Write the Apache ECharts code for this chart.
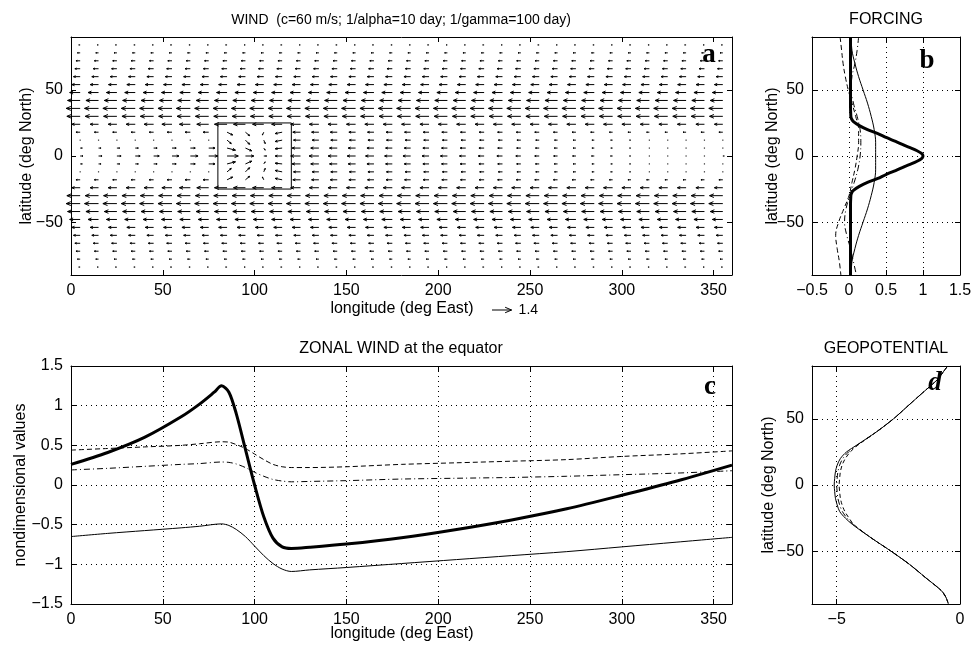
<!DOCTYPE html>
<html><head><meta charset="utf-8">
<script src="https://cdn.jsdelivr.net/npm/echarts@6/dist/echarts.min.js"></script>
<style>html,body{margin:0;padding:0;background:#fff}#c{width:972px;height:645px}</style>
</head><body><div id="c"></div>
<script>
// ================= DATA =================
// --- panel a: wind vectors (tails at grid points) ---
const windLons = [5,15,25,35,45,55,65,75,85,95,105,115,125,135,145,155,165,175,185,195,205,215,225,235,245,255,265,275,285,295,305,315,325,335,345,355];
// rows that look uniform along longitude (zonal wind u)
const uniformLats = [84,78,72,66,60,54,48,42,36,30,-30,-36,-42,-48,-54,-60,-66,-72,-78,-84];
const uniformU    = [-0.1,-0.2,-0.3,-0.38,-0.48,-0.6,-0.75,-0.9,-1.0,-0.95,-0.95,-1.0,-0.9,-0.75,-0.6,-0.48,-0.38,-0.3,-0.2,-0.1];
// tropical rows (u per longitude)
const tropLats = [24,18,12,6,0,-6,-12,-18,-24];
const uN24 = [-0.6,-0.6,-0.62,-0.65,-0.68,-0.72,-0.78,-0.85,-0.9,-0.85,-0.8,-0.75,-0.7,-0.68,-0.66,-0.65,-0.65,-0.65,-0.65,-0.65,-0.65,-0.65,-0.65,-0.65,-0.65,-0.65,-0.65,-0.65,-0.65,-0.65,-0.65,-0.65,-0.63,-0.62,-0.61,-0.6];
const uN18 = [-0.3,-0.3,-0.3,-0.3,-0.32,-0.35,-0.38,-0.4,0.4,0.3,-0.1,-0.5,-0.55,-0.52,-0.5,-0.48,-0.46,-0.45,-0.44,-0.42,-0.4,-0.38,-0.36,-0.35,-0.33,-0.32,-0.3,-0.28,-0.26,-0.24,-0.22,-0.2,-0.2,-0.22,-0.25,-0.28];
const uN12 = [-0.05,-0.05,-0.05,-0.05,-0.05,-0.05,-0.06,-0.08,0.3,0.3,0.1,-0.5,-0.5,-0.48,-0.46,-0.45,-0.43,-0.42,-0.4,-0.38,-0.36,-0.34,-0.32,-0.3,-0.28,-0.25,-0.22,-0.2,-0.17,-0.14,-0.1,-0.08,-0.06,-0.05,-0.05,-0.05];
const uN06 = [0.15,0.18,0.2,0.22,0.25,0.3,0.35,0.45,0.6,0.45,0.1,-0.5,-0.6,-0.58,-0.55,-0.53,-0.5,-0.48,-0.46,-0.44,-0.42,-0.4,-0.37,-0.34,-0.3,-0.27,-0.24,-0.2,-0.17,-0.13,-0.1,-0.07,-0.04,-0.02,0.02,0.08];
const uEq  = [0.2,0.25,0.3,0.35,0.4,0.5,0.55,0.65,0.8,0.6,0.2,-0.5,-0.7,-0.7,-0.65,-0.6,-0.6,-0.55,-0.55,-0.5,-0.5,-0.45,-0.42,-0.4,-0.36,-0.32,-0.28,-0.24,-0.2,-0.15,-0.1,-0.07,-0.04,0.02,0.05,0.1];
const uS06 = [0.15,0.18,0.2,0.22,0.25,0.3,0.35,0.45,0.6,0.45,0.1,-0.5,-0.6,-0.58,-0.55,-0.53,-0.5,-0.48,-0.46,-0.44,-0.42,-0.4,-0.37,-0.34,-0.3,-0.27,-0.24,-0.2,-0.17,-0.13,-0.1,-0.07,-0.04,-0.02,0.02,0.08];
const uS12 = [-0.05,-0.05,-0.05,-0.05,-0.05,-0.05,-0.06,-0.08,0.3,0.3,0.1,-0.5,-0.5,-0.48,-0.46,-0.45,-0.43,-0.42,-0.4,-0.38,-0.36,-0.34,-0.32,-0.3,-0.28,-0.25,-0.22,-0.2,-0.17,-0.14,-0.1,-0.08,-0.06,-0.05,-0.05,-0.05];
const uS18 = [-0.3,-0.3,-0.3,-0.3,-0.32,-0.35,-0.38,-0.4,0.4,0.3,-0.1,-0.5,-0.55,-0.52,-0.5,-0.48,-0.46,-0.45,-0.44,-0.42,-0.4,-0.38,-0.36,-0.35,-0.33,-0.32,-0.3,-0.28,-0.26,-0.24,-0.22,-0.2,-0.2,-0.22,-0.25,-0.28];
const uS24 = [-0.6,-0.6,-0.62,-0.65,-0.68,-0.72,-0.78,-0.85,-0.9,-0.85,-0.8,-0.75,-0.7,-0.68,-0.66,-0.65,-0.65,-0.65,-0.65,-0.65,-0.65,-0.65,-0.65,-0.65,-0.65,-0.65,-0.65,-0.65,-0.65,-0.65,-0.65,-0.65,-0.63,-0.62,-0.61,-0.6];
const uTrop = [uN24,uN18,uN12,uN06,uEq,uS06,uS12,uS18,uS24];
// meridional wind inside the forcing box: [lon, lat, v]
const vBox = [
  [85,18,-0.2],[95,18,-0.25],[105,18,-0.2],[115,18,-0.1],
  [85,12,-0.25],[95,12,-0.3],[105,12,-0.25],[115,12,-0.1],
  [85,6,-0.15],[95,6,-0.2],[105,6,-0.15],[115,6,-0.05],
  [85,-6,0.15],[95,-6,0.2],[105,-6,0.15],[115,-6,0.05],
  [85,-12,0.25],[95,-12,0.3],[105,-12,0.25],[115,-12,0.1],
  [85,-18,0.2],[95,-18,0.25],[105,-18,0.2],[115,-18,0.1]
];
const boxLon = [80,120,120,80,80];
const boxLat = [-25,-25,25,25,-25];
const scaleArrowValue = 1.4;

// --- panel b: forcing profiles vs latitude ---
const forcLat      = [90,80,70,60,50,40,30,20,10,0,-10,-20,-30,-40,-50,-60,-70,-80,-90];
const forcThin     = [0.03,0.04,0.08,0.13,0.19,0.25,0.3,0.34,0.36,0.36,0.36,0.34,0.3,0.25,0.19,0.13,0.08,0.04,0.03];
const forcDash     = [-0.12,-0.1,-0.08,-0.05,-0.01,0.04,0.09,0.13,0.13,0.11,0.08,0.04,0.0,-0.07,-0.14,-0.18,-0.16,-0.13,-0.11];
const forcDashDot  = [0.13,0.11,0.08,0.04,0.03,0.06,0.11,0.15,0.16,0.15,0.12,0.07,0.01,-0.04,-0.06,-0.03,0.02,0.06,0.1];
const thickLat     = [90,60,40,30,28,26,23,20,17,14,11,8,6,4,2,0,-2,-4,-6,-8,-11,-14,-17,-20,-23,-26,-28,-30,-40,-60,-90];
const forcThick    = [0.02,0.02,0.02,0.025,0.035,0.06,0.14,0.25,0.39,0.5,0.63,0.75,0.84,0.92,0.98,1.0,0.98,0.92,0.84,0.75,0.63,0.5,0.39,0.25,0.14,0.06,0.035,0.025,0.02,0.02,0.02];

// --- panel c: zonal wind at the equator ---
const zonLon      = [0,20,40,60,70,82,86,90,95,100,105,110,115,120,130,150,180,210,240,270,300,330,360];
const zonThin     = [-0.65,-0.61,-0.575,-0.54,-0.52,-0.49,-0.51,-0.56,-0.65,-0.77,-0.89,-0.99,-1.06,-1.09,-1.07,-1.04,-0.99,-0.94,-0.89,-0.84,-0.78,-0.72,-0.66];
const zonDash     = [0.44,0.46,0.48,0.5,0.52,0.545,0.54,0.51,0.46,0.39,0.32,0.26,0.23,0.22,0.22,0.23,0.26,0.28,0.3,0.32,0.36,0.39,0.43];
const zonDashDot  = [0.19,0.21,0.235,0.26,0.27,0.29,0.285,0.265,0.22,0.16,0.11,0.07,0.05,0.04,0.045,0.055,0.075,0.085,0.095,0.11,0.13,0.15,0.18];
const thickLon    = [0,20,40,60,70,78,82,86,90,95,100,105,110,115,120,130,150,180,210,240,270,300,330,360];
const zonThick    = [0.26,0.41,0.6,0.86,1.02,1.17,1.25,1.17,0.9,0.45,0.0,-0.4,-0.67,-0.78,-0.8,-0.785,-0.745,-0.665,-0.56,-0.44,-0.3,-0.13,0.05,0.25];

// --- panel d: geopotential vs latitude ---
const geoLat     = [90,85,80,70,60,50,40,30,25,20,15,10,5,0,-5,-10,-15,-20,-25,-30,-40,-50,-60,-70,-80,-85,-90];
const geoSolid   = [-0.5,-0.7,-0.9,-1.5,-2.1,-2.7,-3.4,-4.2,-4.6,-4.85,-4.98,-5.05,-5.08,-5.1,-5.08,-5.05,-4.98,-4.88,-4.65,-4.35,-3.6,-2.8,-2.05,-1.4,-0.75,-0.57,-0.47];
const geoDash    = [-0.5,-0.7,-0.9,-1.5,-2.1,-2.7,-3.4,-4.15,-4.45,-4.65,-4.78,-4.85,-4.88,-4.9,-4.88,-4.85,-4.78,-4.67,-4.5,-4.3,-3.6,-2.8,-2.05,-1.4,-0.75,-0.57,-0.47];
const geoDashDot = [-0.5,-0.7,-0.9,-1.5,-2.1,-2.7,-3.4,-4.18,-4.52,-4.75,-4.88,-4.95,-4.98,-5.0,-4.98,-4.95,-4.88,-4.77,-4.58,-4.32,-3.6,-2.8,-2.05,-1.4,-0.75,-0.57,-0.47];

// --- tick values ---
const lonTicks   = [0,50,100,150,200,250,300,350];
const latTicks   = [-50,0,50];
const forcTicks  = [-0.5,0,0.5,1,1.5];
const zonTicks   = [-1.5,-1,-0.5,0,0.5,1,1.5];
const geoTicks   = [-5,0];

// ================= BUILD =================
const FONT = '"Liberation Sans", Arial, Helvetica, sans-serif';
const ARROW_PX = 14; // pixels per unit of wind

const windData = [];
const vLookup = {};
vBox.forEach(d => { vLookup[d[0] + '_' + d[1]] = d[2]; });
function pushRow(lat, uArr) {
  windLons.forEach((lon, i) => {
    const u = Array.isArray(uArr) ? uArr[i] : uArr;
    const v = vLookup[lon + '_' + lat] || 0;
    windData.push([lon, lat, u, v]);
  });
}
uniformLats.forEach((lat, k) => pushRow(lat, uniformU[k]));
tropLats.forEach((lat, k) => pushRow(lat, uTrop[k]));

const zip = (a, b) => a.map((x, i) => [x, b[i]]);
const minus = v => String(v).replace('-', '\u2212');

function axisPair(gridIndex, dim, min, max, ticks, grid) {
  const isX = dim === 'x';
  const base = {
    type: 'value', gridIndex, min, max, scale: true,
    axisLine: { show: true, onZero: false, lineStyle: { color: '#000', width: 1 } },
    axisTick: { show: true, inside: true, length: 5, customValues: ticks, lineStyle: { color: '#000', width: 1 } },
  };
  const main = Object.assign({}, base, {
    position: isX ? 'bottom' : 'left',
    axisLabel: { show: true, customValues: ticks, color: '#000', fontSize: 16, fontFamily: FONT, margin: isX ? 8 : 8, formatter: minus },
    splitLine: { show: grid, lineStyle: { color: '#000', width: 1, type: [1, 4] } }
  });
  const opp = Object.assign({}, base, {
    position: isX ? 'top' : 'right',
    axisLabel: { show: false },
    splitLine: { show: false }
  });
  return [main, opp];
}

const xAxes = [].concat(
  axisPair(0, 'x', 0, 360, lonTicks, false),
  axisPair(1, 'x', -0.5, 1.5, forcTicks, true),
  axisPair(2, 'x', 0, 360, lonTicks, true),
  axisPair(3, 'x', -6, 0, geoTicks, true)
);
const yAxes = [].concat(
  axisPair(0, 'y', -90, 90, latTicks, false),
  axisPair(1, 'y', -90, 90, latTicks, true),
  axisPair(2, 'y', -1.5, 1.5, zonTicks, true),
  axisPair(3, 'y', -90, 90, latTicks, true)
);

function line(xi, yi, data, width, type, smooth) {
  return {
    type: 'line', xAxisIndex: xi, yAxisIndex: yi, data, showSymbol: false, symbol: 'none',
    smooth: smooth || false, animation: false, silent: true, clip: true,
    lineStyle: { color: '#000', width, type: type || 'solid' }
  };
}

function renderArrow(params, api) {
  const lon = api.value(0), lat = api.value(1), u = api.value(2), v = api.value(3);
  const p = api.coord([lon, lat]);
  const dx = u * ARROW_PX, dy = -v * ARROW_PX;
  const L = Math.hypot(dx, dy);
  const st = { stroke: '#000', lineWidth: 1, fill: null };
  if (L < 1.2) {
    return { type: 'line', shape: { x1: p[0] - 0.6, y1: p[1], x2: p[0] + 0.6, y2: p[1] }, style: st };
  }
  const tip = [p[0] + dx, p[1] + dy];
  const ex = dx / L, ey = dy / L;
  const hl = 0.33 * L, hw = 0.14 * L;
  return {
    type: 'group', children: [
      { type: 'polyline', shape: { points: [p, tip] }, style: st },
      { type: 'polyline', shape: { points: [[tip[0] - ex * hl - ey * hw, tip[1] - ey * hl + ex * hw], tip, [tip[0] - ex * hl + ey * hw, tip[1] - ey * hl - ex * hw]] }, style: st }
    ]
  };
}

function txt(text, x, y, size, opts) {
  opts = opts || {};
  return {
    type: 'text', x, y, rotation: opts.rot || 0, silent: true,
    style: {
      text, x: 0, y: 0, fill: '#000',
      font: (opts.weight || '') + ' ' + (opts.style || '') + ' ' + size + 'px ' + (opts.family || FONT),
      align: opts.align || 'center', verticalAlign: 'middle',
      textAlign: opts.align || 'center', textVerticalAlign: 'middle'
    }
  };
}

const SERIF = '"Liberation Serif", "Times New Roman", serif';
const sx = 492, sy = 310, sl = scaleArrowValue * ARROW_PX;
const graphics = [
  txt('WIND  (c=60 m/s; 1/alpha=10 day; 1/gamma=100 day)', 401, 20, 14),
  txt('FORCING', 886, 20, 16),
  txt('ZONAL WIND at the equator', 401, 349, 16),
  txt('GEOPOTENTIAL', 886, 349, 16),
  txt('longitude (deg East)', 402, 309, 16),
  txt('longitude (deg East)', 402, 634, 16),
  txt('latitude (deg North)', 27, 156, 16, { rot: Math.PI / 2 }),
  txt('latitude (deg North)', 773, 156, 16, { rot: Math.PI / 2 }),
  txt('nondimensional values', 21, 485, 16, { rot: Math.PI / 2 }),
  txt('latitude (deg North)', 769, 485, 16, { rot: Math.PI / 2 }),
  txt('a', 709, 55, 27, { weight: 'bold', family: SERIF }),
  txt('b', 927, 61, 27, { weight: 'bold', family: SERIF }),
  txt('c', 710, 387, 27, { weight: 'bold', family: SERIF }),
  txt('d', 935, 383, 27, { weight: 'bold', style: 'italic', family: SERIF }),
  { type: 'polyline', silent: true, shape: { points: [[sx, sy], [sx + sl, sy]] }, style: { stroke: '#000', lineWidth: 1, fill: null } },
  { type: 'polyline', silent: true, shape: { points: [[sx + sl - 0.33 * sl, sy - 0.14 * sl], [sx + sl, sy], [sx + sl - 0.33 * sl, sy + 0.14 * sl]] }, style: { stroke: '#000', lineWidth: 1, fill: null } },
  txt(String(scaleArrowValue), sx + sl + 7, sy, 14, { align: 'left' })
];

const option = {
  backgroundColor: '#fff',
  animation: false,
  grid: [
    { left: 71, top: 37, width: 661, height: 238, containLabel: false, outerBoundsMode: 'none' },
    { left: 812, top: 37, width: 148, height: 238, containLabel: false, outerBoundsMode: 'none' },
    { left: 71, top: 366, width: 661, height: 238, containLabel: false, outerBoundsMode: 'none' },
    { left: 812, top: 366, width: 148, height: 238, containLabel: false, outerBoundsMode: 'none' }
  ],
  xAxis: xAxes,
  yAxis: yAxes,
  series: [
    { type: 'custom', xAxisIndex: 0, yAxisIndex: 0, data: windData, renderItem: renderArrow, clip: false, silent: true, animation: false },
    line(0, 0, zip(boxLon, boxLat), 1),
    // panel b
    line(2, 2, zip(forcThin, forcLat), 1, 'solid', 0.4),
    line(2, 2, zip(forcDash, forcLat), 1, [5, 3], 0.4),
    line(2, 2, zip(forcDashDot, forcLat), 1, [6, 3, 1, 3], 0.4),
    line(2, 2, zip(forcThick, thickLat), 3, 'solid', 0.2),
    // panel c
    line(4, 4, zip(zonLon, zonThin), 1, 'solid', 0.3),
    line(4, 4, zip(zonLon, zonDash), 1, [5, 3], 0.3),
    line(4, 4, zip(zonLon, zonDashDot), 1, [6, 3, 1, 3], 0.3),
    line(4, 4, zip(thickLon, zonThick), 3, 'solid', 0.3),
    // panel d
    line(6, 6, zip(geoDash, geoLat), 1, [4, 3], 0.3),
    line(6, 6, zip(geoDashDot, geoLat), 1, [6, 3, 1, 3], 0.3),
    line(6, 6, zip(geoSolid, geoLat), 1, 'solid', 0.3)
  ],
  graphic: graphics
};

const chart = echarts.init(document.getElementById('c'), null, { renderer: 'canvas' });
chart.setOption(option);
</script>
</body></html>
